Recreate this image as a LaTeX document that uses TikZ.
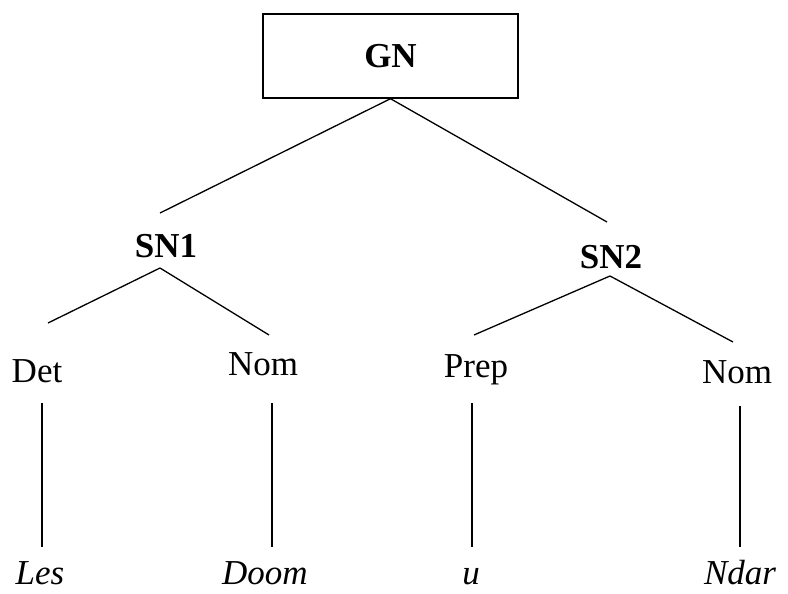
\documentclass[tikz,border=0pt]{standalone}
\usepackage{fontspec}
\setmainfont{Liberation Serif}
\begin{document}
\begin{tikzpicture}[x=1pt,y=-1pt,
  lab/.style={anchor=base,inner sep=0pt,font=\fontsize{35}{40}\selectfont},
  cat/.style={lab,font=\fontsize{35}{40}\selectfont\bfseries},
  word/.style={lab,font=\fontsize{35}{40}\selectfont\itshape},
  edge/.style={draw=black,line width=1.3pt}]
\useasboundingbox (0,0) rectangle (788,594);
% root box
\node[draw,line width=1.4pt,minimum width=255pt,minimum height=84pt,inner sep=0pt,
      font=\fontsize{35}{40}\selectfont\bfseries] (gn) at (390.5,56) {GN};
% phrase labels
\node[cat] (sn1) at (166,257) {SN1};
\node[cat] (sn2) at (611,268) {SN2};
% categories
\node[lab] (det) at (37,382) {Det};
\node[lab] (nom1) at (263,375) {Nom};
\node[lab] (prep) at (476,377) {Prep};
\node[lab] (nom2) at (737,383) {Nom};
% words
\node[word] (les) at (40,584) {Les};
\node[word] (doom) at (265,584) {Doom};
\node[word] (u) at (471,584) {u};
\node[word] (ndar) at (740,584) {Ndar};
% connector end points
\coordinate (sn1t) at (160,213);
\coordinate (sn2t) at (607,222);
\coordinate (sn1b) at (160,268);
\coordinate (sn2b) at (610,276);
\coordinate (dett) at (48,323);
\coordinate (nom1t) at (269,335);
\coordinate (prept) at (474,335);
\coordinate (nom2t) at (733,342);
\coordinate (detb) at (42,403);
\coordinate (nom1b) at (272,403);
\coordinate (prepb) at (472,403);
\coordinate (nom2b) at (740,406);
\coordinate (lest) at (42,547);
\coordinate (doomt) at (272,547);
\coordinate (ut) at (472,547);
\coordinate (ndart) at (740,547);
% connectors
\draw[edge] (gn.south) -- (sn1t);
\draw[edge] (gn.south) -- (sn2t);
\draw[edge] (sn1b) -- (dett);
\draw[edge] (sn1b) -- (nom1t);
\draw[edge] (sn2b) -- (prept);
\draw[edge] (sn2b) -- (nom2t);
\draw[edge] (detb) -- (lest);
\draw[edge] (nom1b) -- (doomt);
\draw[edge] (prepb) -- (ut);
\draw[edge] (nom2b) -- (ndart);
\end{tikzpicture}
\end{document}
